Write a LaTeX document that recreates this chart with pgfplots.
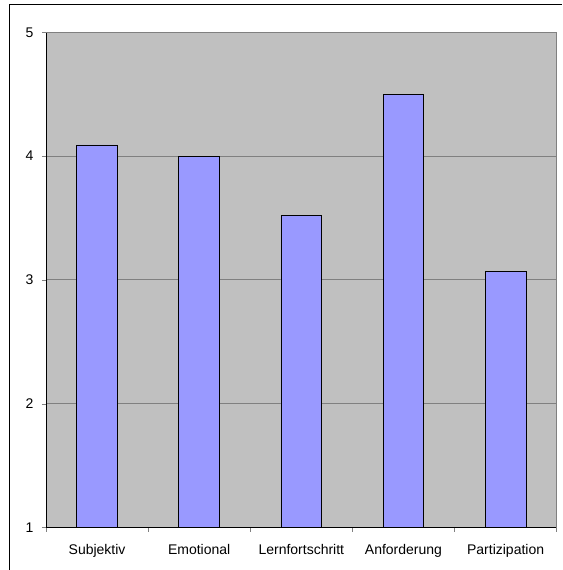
\documentclass[border=0pt]{standalone}
\usepackage{fontspec}
\setmainfont{Liberation Sans}
\usepackage{pgfplots}
\pgfplotsset{compat=1.18}

\definecolor{plotbg}{HTML}{C0C0C0}
\definecolor{barfill}{HTML}{9999FF}
\definecolor{gridgray}{HTML}{808080}

\begin{document}
\begin{tikzpicture}
    \useasboundingbox (0,0) rectangle (421.5pt,427.5pt);
    % chart frame (left and top visible)
    \draw[black, line width=0.75pt] (6.75pt,0) -- (6.75pt,423.75pt) -- (421.5pt,423.75pt);

    \begin{axis}[
        at={(34.5pt,31.7pt)}, anchor=south west,
        scale only axis,
        width=383pt, height=371.6pt,
        xmin=-0.5, xmax=4.5,
        ymin=1, ymax=5,
        ytick={1,2,3,4,5},
        xtick={0,1,2,3,4},
        xticklabels={Subjektiv, Emotional, Lernfortschritt, Anforderung, Partizipation},
        minor xtick={-0.5,0.5,1.5,2.5,3.5,4.5},
        major x tick style={draw=none},
        minor tick length=3pt,
        major tick length=3pt,
        tick align=outside,
        tick style={gridgray, line width=0.5pt},
        axis x line*=bottom,
        axis y line*=left,
        axis line style={black, line width=0.75pt, -},
        ymajorgrids=true,
        grid style={gridgray, line width=0.75pt},
        axis background/.style={fill=plotbg},
        tick label style={font=\fontsize{10.5}{12}\selectfont},
        /pgf/number format/assume math mode=true,
        yticklabel style={xshift=-3pt},
        xticklabel style={yshift=-6pt},
        ybar,
        bar width=0.4,
        clip=false,
    ]
        \addplot[fill=barfill, draw=black, line width=0.6pt] coordinates {
            (0,4.09)
            (1,4.00)
            (2,3.52)
            (3,4.50)
            (4,3.07)
        };
        \draw[gridgray, line width=0.75pt] (rel axis cs:0,1) -- (rel axis cs:1,1) -- (rel axis cs:1,0);
    \end{axis}
\end{tikzpicture}
\end{document}
